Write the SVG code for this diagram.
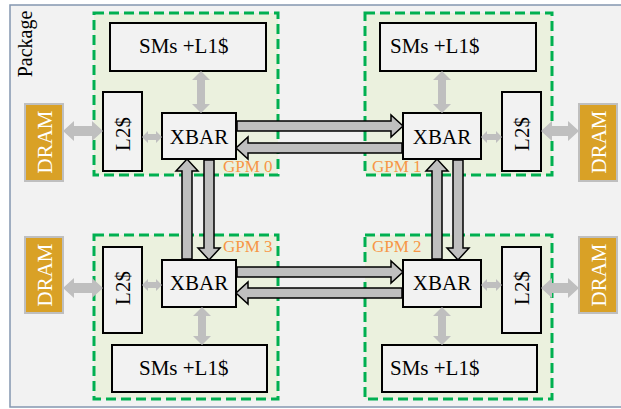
<svg xmlns="http://www.w3.org/2000/svg" width="621" height="409" viewBox="0 0 621 409">
<style>
.gpm{fill:#ebf1de;stroke:#00b050;stroke-width:3;stroke-dasharray:10 5}
.box{fill:#f2f2f2;stroke:#000;stroke-width:2}
.dram{fill:#d9a126;stroke:#bfbfbf;stroke-width:2}
.t{font-family:"Liberation Serif",serif;font-size:21px;fill:#000}
.dt{font-family:"Liberation Serif",serif;font-size:21px;fill:#fff}
.lbl{font-family:"Liberation Serif",serif;font-size:17px;fill:#f79646}
.big{fill:#bfbfbf;stroke:#000;stroke-width:1.5;stroke-linejoin:miter}
.sm{fill:#bfbfbf;stroke:none}
</style>
<rect x="10" y="5" width="620" height="402" fill="#f2f2f2" stroke="#8497b0" stroke-width="1.5"/>
<text class="t" transform="translate(32,44) rotate(-90)" text-anchor="middle" style="font-size:20px">Package</text>

<g id="gpm0">
<rect class="gpm" x="94" y="13" width="184" height="162"/>
<rect class="box" x="110" y="23" width="156" height="48"/>
<text class="t" x="139" y="53">SMs +L1$</text>
<rect class="box" x="103" y="92" width="39" height="79"/>
<text class="t" transform="translate(130,134) rotate(-90)" text-anchor="middle">L2$</text>
<rect class="box" x="162" y="113" width="74" height="46"/>
<text class="t" x="199" y="144" text-anchor="middle">XBAR</text>
<text class="lbl" x="223" y="172">GPM 0</text>
</g>
<g id="gpm1">
<rect class="gpm" x="365" y="13" width="187" height="162"/>
<rect class="box" x="380" y="23" width="156" height="48"/>
<text class="t" x="390" y="53">SMs +L1$</text>
<rect class="box" x="502" y="92" width="39" height="79"/>
<text class="t" transform="translate(529,134) rotate(-90)" text-anchor="middle">L2$</text>
<rect class="box" x="403" y="113" width="78" height="46"/>
<text class="t" x="442" y="144" text-anchor="middle">XBAR</text>
<text class="lbl" x="372" y="172">GPM 1</text>
</g>
<g id="gpm3">
<rect class="gpm" x="94" y="235" width="184" height="164"/>
<rect class="box" x="112" y="345" width="155" height="47"/>
<text class="t" x="139" y="375">SMs +L1$</text>
<rect class="box" x="103" y="247" width="39" height="86"/>
<text class="t" transform="translate(130,288) rotate(-90)" text-anchor="middle">L2$</text>
<rect class="box" x="162" y="260" width="74" height="47"/>
<text class="t" x="199" y="290" text-anchor="middle">XBAR</text>
<text class="lbl" x="223" y="252">GPM 3</text>
</g>
<g id="gpm2">
<rect class="gpm" x="365" y="235" width="187" height="164"/>
<rect class="box" x="382" y="345" width="155" height="47"/>
<text class="t" x="390" y="375">SMs +L1$</text>
<rect class="box" x="502" y="247" width="39" height="86"/>
<text class="t" transform="translate(529,288) rotate(-90)" text-anchor="middle">L2$</text>
<rect class="box" x="403" y="260" width="78" height="47"/>
<text class="t" x="442" y="290" text-anchor="middle">XBAR</text>
<text class="lbl" x="372" y="252">GPM 2</text>
</g>
<g id="dram0">
<rect class="dram" x="25" y="104" width="38" height="77"/>
<text class="dt" transform="translate(52,142) rotate(-90)" text-anchor="middle">DRAM</text>
</g>
<g id="dram1">
<rect class="dram" x="579" y="104" width="38" height="77"/>
<text class="dt" transform="translate(606,142) rotate(-90)" text-anchor="middle">DRAM</text>
</g>
<g id="dram3">
<rect class="dram" x="25" y="237" width="38" height="76"/>
<text class="dt" transform="translate(52,275) rotate(-90)" text-anchor="middle">DRAM</text>
</g>
<g id="dram2">
<rect class="dram" x="579" y="237" width="38" height="76"/>
<text class="dt" transform="translate(606,275) rotate(-90)" text-anchor="middle">DRAM</text>
</g>

<g id="connectors">
<path class="big" d="M237,121 H391 V115 L403,126 L391,137 V131 H237 Z"/>
<path class="big" d="M402,143 H248 V137 L236,148 L248,159 V153 H402 Z"/>
<path class="big" d="M237,267 H391 V261 L403,272 L391,283 V277 H237 Z"/>
<path class="big" d="M402,288 H248 V282 L236,293 L248,304 V298 H402 Z"/>
<path class="big" d="M182,259 V171 H176 L187,159 L198,171 H192 V259 Z"/>
<path class="big" d="M204,160 V248 H198 L209,260 L220,248 H214 V160 Z"/>
<path class="big" d="M432,259 V171 H426 L437,159 L448,171 H442 V259 Z"/>
<path class="big" d="M453,160 V248 H447 L458,260 L469,248 H463 V160 Z"/>
<path class="sm" d="M201,71 L210,80 H205 V104 H210 L201,113 L192,104 H197 V80 H192 Z"/>
<path class="sm" d="M442,71 L451,80 H446 V104 H451 L442,113 L433,104 H438 V80 H433 Z"/>
<path class="sm" d="M202,307 L211,316 H206 V336 H211 L202,345 L193,336 H198 V316 H193 Z"/>
<path class="sm" d="M442,307 L451,316 H446 V336 H451 L442,345 L433,336 H438 V316 H433 Z"/>
<path class="sm" d="M142,137 L148,131 V134 H156 V131 L162,137 L156,143 V140 H148 V143 Z"/>
<path class="sm" d="M481,137 L487,131 V134 H496 V131 L502,137 L496,143 V140 H487 V143 Z"/>
<path class="sm" d="M142,285 L148,279 V282 H156 V279 L162,285 L156,291 V288 H148 V291 Z"/>
<path class="sm" d="M481,285 L487,279 V282 H496 V279 L502,285 L496,291 V288 H487 V291 Z"/>
<path class="sm" d="M63,131 L74,121 V126 H92 V121 L103,131 L92,141 V136 H74 V141 Z"/>
<path class="sm" d="M541,131 L552,121 V126 H568 V121 L579,131 L568,141 V136 H552 V141 Z"/>
<path class="sm" d="M63,288 L74,278 V283 H92 V278 L103,288 L92,298 V293 H74 V298 Z"/>
<path class="sm" d="M541,288 L552,278 V283 H568 V278 L579,288 L568,298 V293 H552 V298 Z"/>
</g>
</svg>
